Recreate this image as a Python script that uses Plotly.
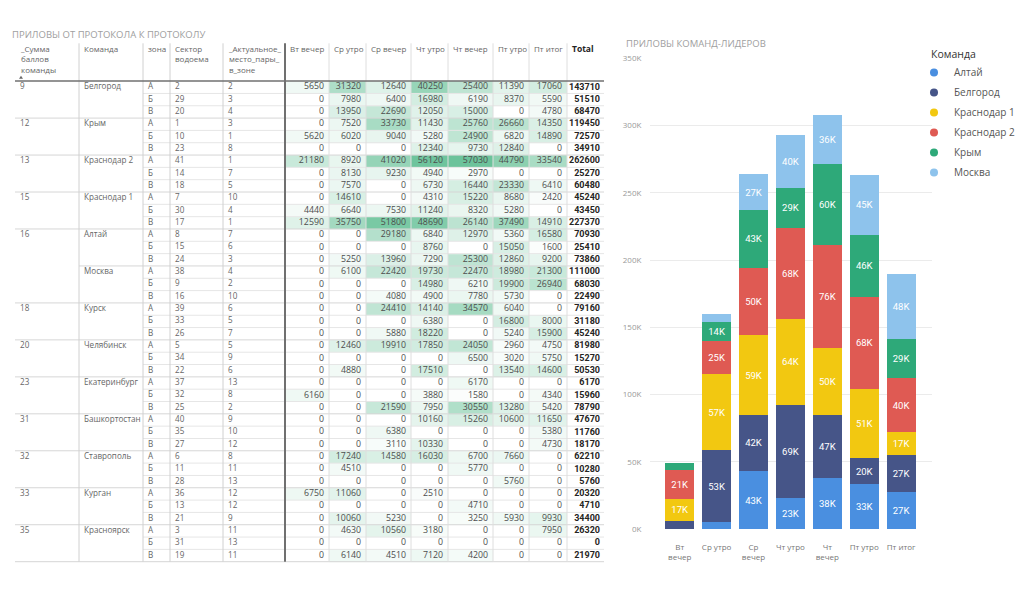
import plotly.graph_objects as go

# ---------------- data (table) ----------------
teams = ["Белгород", "Крым", "Краснодар 2", "Краснодар 1", "Алтай", "Москва", "Курск",
         "Челябинск", "Екатеринбург", "Башкортостан", "Ставрополь", "Курган", "Красноярск"]
team_scores = [9, 12, 13, 15, 16, 16, 18, 20, 23, 31, 32, 33, 35]
zones = ["А", "Б", "В"]
sectors = [2, 29, 20, 1, 10, 23, 41, 14, 18, 7, 30, 17, 8, 15, 24, 38, 9, 16, 39, 33, 26,
           5, 34, 22, 37, 32, 25, 40, 35, 27, 6, 11, 28, 36, 13, 21, 3, 31, 19]
places = [2, 3, 4, 3, 1, 8, 1, 7, 5, 10, 4, 1, 7, 6, 3, 4, 2, 10, 6, 5, 7,
          5, 9, 6, 13, 8, 2, 9, 10, 12, 8, 11, 13, 12, 12, 9, 11, 13, 11]

sessions = ["Вт вечер", "Ср утро", "Ср вечер", "Чт утро", "Чт вечер", "Пт утро", "Пт итог"]
vt_vecher = [5650, 0, 0, 0, 5620, 0, 21180, 0, 0, 0, 4440, 12590, 0, 0, 0, 0, 0, 0, 0, 0, 0,
             0, 0, 0, 0, 6160, 0, 0, 0, 0, 0, 0, 0, 6750, 0, 0, 0, 0, 0]
sr_utro = [31320, 7980, 13950, 7520, 6020, 0, 8920, 8130, 7570, 14610, 6640, 35750, 0, 0, 5250,
           6100, 0, 0, 0, 0, 0, 12460, 0, 4880, 0, 0, 0, 0, 0, 0, 17240, 4510, 0, 11060, 0, 10060,
           4630, 0, 6140]
sr_vecher = [12640, 6400, 22690, 33730, 9040, 0, 41020, 9230, 0, 0, 7530, 51800, 29180, 0, 13960,
             22420, 0, 4080, 24410, 0, 5880, 19910, 0, 0, 0, 0, 21590, 0, 6380, 3110, 14580, 0, 0,
             0, 0, 5230, 10560, 0, 4510]
cht_utro = [40250, 16980, 12050, 11430, 5280, 12340, 56120, 4940, 6730, 4310, 11240, 48690, 6840,
            8760, 7290, 19730, 14980, 4900, 14140, 6380, 18220, 17850, 0, 17510, 0, 3880, 7950,
            10160, 0, 10330, 16030, 0, 0, 2510, 0, 0, 3180, 0, 7120]
cht_vecher = [25400, 6190, 15000, 25760, 24900, 9730, 57030, 2970, 16440, 15220, 8320, 26140,
              12970, 0, 25300, 22470, 6210, 7780, 34570, 0, 0, 24050, 6500, 0, 6170, 1580, 30550,
              15260, 0, 0, 6700, 5770, 0, 0, 4710, 3250, 0, 0, 4200]
pt_utro = [11390, 8370, 0, 26660, 6820, 12840, 44790, 0, 23330, 8680, 5280, 37490, 5360, 15050,
           12860, 18980, 19900, 5730, 6040, 16800, 5240, 2960, 3020, 13540, 0, 0, 13280, 10600, 0,
           0, 7660, 0, 5760, 0, 0, 5930, 0, 0, 0]
pt_itog = [17060, 5590, 4780, 14350, 14890, 0, 33540, 0, 6410, 2420, 0, 14910, 16580, 1600, 9200,
           21300, 26940, 0, 0, 8000, 15900, 4750, 5750, 14600, 0, 4340, 5420, 11650, 5380, 4730,
           0, 0, 0, 0, 0, 9930, 7950, 0, 0]
session_values = [vt_vecher, sr_utro, sr_vecher, cht_utro, cht_vecher, pt_utro, pt_itog]

header_labels = ["_Сумма<br>баллов<br>команды", "Команда", "зона", "Сектор<br>водоема",
                 "_Актуальное_<br>место_пары_<br>в_зоне"] + sessions + ["<b>Total</b>"]

# ---------------- data (chart) ----------------
leaders = ["Алтай", "Белгород", "Краснодар 1", "Краснодар 2", "Крым", "Москва"]
leader_colors = ["#4a8fe0", "#465588", "#f2c811", "#df5a53", "#2ea979", "#8ec3ec"]
session_tick_labels = ["Вт<br>вечер", "Ср утро", "Ср<br>вечер", "Чт утро", "Чт<br>вечер",
                       "Пт утро", "Пт итог"]
y_tick_values = [0, 50000, 100000, 150000, 200000, 250000, 300000, 350000]
y_tick_labels = ["0K", "50K", "100K", "150K", "200K", "250K", "300K", "350K"]

# ---------------- derived ----------------
n_rows = len(sectors)
row_team = [t for t in teams for _ in range(3)]
row_score = [s for s in team_scores for _ in range(3)]
row_zone = zones * len(teams)
totals = [sum(col[i] for col in session_values) for i in range(n_rows)]
leader_sums = [[sum(col[i] for i in range(n_rows) if row_team[i] == team) for col in session_values]
               for team in leaders]

# ---------------- layout constants ----------------
W, H = 1024, 607
FONT = "Open Sans"
col_widths = [64, 64, 27, 53, 62, 44, 37, 45, 37, 45, 36, 38, 37]
TABLE_LEFT = 15
edges = [TABLE_LEFT]
for w in col_widths:
    edges.append(edges[-1] + w)
HEADER_TOP = 38
BODY_TOP = 76.5
ROW_H = 12.55
row_edges = [BODY_TOP + k * ROW_H for k in range(n_rows + 1)]
row_centers = [BODY_TOP + (k + 0.5) * ROW_H for k in range(n_rows)]

fig = go.Figure()

# ----- table: heat fills -----
zmat = [[col[i] for col in session_values] for i in range(n_rows)]
zmax = max(max(col) for col in session_values)
fig.add_trace(go.Heatmap(
    x=edges[5:13], y=row_edges, z=zmat, zmin=0, zmax=zmax,
    colorscale=[[0, "#ffffff"], [1, "#6cc39b"]], showscale=False,
    hoverinfo="skip", xaxis="x2", yaxis="y2"))

# ----- table: numbers -----
nx, ny, nt = [], [], []
for s, col in enumerate(session_values):
    for i, v in enumerate(col):
        nx.append(edges[5 + s + 1] - 5)
        ny.append(row_centers[i])
        nt.append(str(v))
fig.add_trace(go.Scatter(x=nx, y=ny, text=nt, mode="text", textposition="middle left",
                         textfont=dict(family=FONT, size=8.8, color="#4d4d4d"),
                         hoverinfo="skip", showlegend=False, cliponaxis=False,
                         xaxis="x2", yaxis="y2"))
fig.add_trace(go.Scatter(x=[edges[13] - 4] * n_rows, y=row_centers, text=[str(t) for t in totals],
                         mode="text", textposition="middle left",
                         textfont=dict(family="Roboto", size=9, color="#252423", weight="bold"),
                         hoverinfo="skip", showlegend=False, cliponaxis=False,
                         xaxis="x2", yaxis="y2"))

# ----- table: left columns -----
lx, ly, lt = [], [], []
for i in range(n_rows):
    if i == 0 or row_score[i] != row_score[i - 1]:
        lx.append(edges[0] + 5); ly.append(row_centers[i]); lt.append(str(row_score[i]))
    if i % 3 == 0:
        lx.append(edges[1] + 5); ly.append(row_centers[i]); lt.append(row_team[i].replace(" ", "\u00a0"))
    lx.append(edges[2] + 5); ly.append(row_centers[i]); lt.append(row_zone[i])
    lx.append(edges[3] + 5); ly.append(row_centers[i]); lt.append(str(sectors[i]))
    lx.append(edges[4] + 5); ly.append(row_centers[i]); lt.append(str(places[i]))
fig.add_trace(go.Scatter(x=lx, y=ly, text=lt, mode="text", textposition="middle right",
                         textfont=dict(family=FONT, size=8.1, color="#666666"),
                         hoverinfo="skip", showlegend=False, cliponaxis=False,
                         xaxis="x2", yaxis="y2"))

# ----- table: header -----
annotations = []
for j, lab in enumerate(header_labels):
    annotations.append(dict(x=edges[j] + 3, y=HEADER_TOP - 2, xref="x2", yref="y2",
                            text=lab, showarrow=False, xanchor="left", yanchor="top", align="left",
                            font=dict(family=FONT, size=8.5 if j == 12 else 8,
                                      color="#252423" if j == 12 else "#666666")))

# ----- table: grid lines -----
shapes = []
score_starts = {i for i in range(n_rows) if i == 0 or row_score[i] != row_score[i - 1]}
for k in range(1, n_rows + 1):
    if k in score_starts or k == n_rows:
        x0, c = edges[0], "#d6d6d6"
    elif k % 3 == 0:
        x0, c = edges[1], "#d6d6d6"
    else:
        x0, c = edges[2], "#e6e6e6"
    shapes.append(dict(type="line", xref="x2", yref="y2", x0=x0, x1=edges[13],
                       y0=row_edges[k], y1=row_edges[k], line=dict(color=c, width=1), layer="above"))
for j in range(1, 13):
    if j == 5:
        c, w = "#707070", 2
    elif j < 5:
        c, w = "#d0d0d0", 1
    else:
        c, w = "#dedede", 1
    shapes.append(dict(type="line", xref="x2", yref="y2", x0=edges[j], x1=edges[j],
                       y0=HEADER_TOP, y1=row_edges[-1], line=dict(color=c, width=w), layer="above"))
shapes.append(dict(type="line", xref="x2", yref="y2", x0=edges[0], x1=edges[13],
                   y0=BODY_TOP, y1=BODY_TOP, line=dict(color="#707070", width=1.5), layer="above"))
# small sort marker under the first header
ax0 = edges[0] + 4
shapes.append(dict(type="path", xref="x2", yref="y2",
                   path=f"M {ax0},{BODY_TOP - 2.5} L {ax0 + 4},{BODY_TOP - 2.5} L {ax0 + 2},{BODY_TOP - 5.5} Z",
                   fillcolor="#666666", line=dict(width=0), layer="above"))

# ----- bar chart -----
def k_label(v):
    return f"{int(v / 1000 + 0.5)}K"

for team, color, vals in zip(leaders, leader_colors, leader_sums):
    fig.add_trace(go.Bar(
        x=sessions, y=vals, name=team, marker=dict(color=color, line=dict(width=0)),
        text=[k_label(v) for v in vals], textposition="inside",
        insidetextanchor="middle", textangle=0,
        textfont=dict(family="Roboto", size=9.5, color="white"),
        showlegend=False, hovertemplate=team + ": %{y}<extra></extra>"))
for team, color in zip(leaders, leader_colors):
    fig.add_trace(go.Scatter(x=[None], y=[None], mode="markers", name=team, legendgroup=team,
                             marker=dict(size=8, color=color, symbol="circle"), showlegend=True))

# ----- titles -----
annotations.append(dict(x=10 / W, y=1 - 29 / H, xref="paper", yref="paper",
                        text="ПРИЛОВЫ ОТ ПРОТОКОЛА К ПРОТОКОЛУ", showarrow=False,
                        xanchor="left", yanchor="middle",
                        font=dict(family=FONT, size=9.5, color="#a0a0a0")))
annotations.append(dict(x=624 / W, y=1 - 38 / H, xref="paper", yref="paper",
                        text="ПРИЛОВЫ КОМАНД-ЛИДЕРОВ", showarrow=False,
                        xanchor="left", yanchor="middle",
                        font=dict(family=FONT, size=9.5, color="#a0a0a0")))

fig.update_layout(
    width=W, height=H, margin=dict(l=0, r=0, t=0, b=0),
    paper_bgcolor="white", plot_bgcolor="rgba(0,0,0,0)",
    barmode="stack", bargap=0.214,
    uniformtext=dict(minsize=9.5, mode="hide"),
    font=dict(family=FONT),
    xaxis=dict(domain=[650 / W, 932 / W], type="category", range=[-0.805, 6.837],
               tickvals=sessions, ticktext=session_tick_labels, showgrid=False,
               zeroline=False, showline=False, ticks="outside", ticklen=10,
               tickcolor="rgba(0,0,0,0)", tickfont=dict(family=FONT, size=8, color="#777777"),
               fixedrange=True, anchor="y"),
    yaxis=dict(domain=[(H - 532.7) / H, (H - 53.3) / H], range=[0, 350000],
               tickvals=y_tick_values, ticktext=y_tick_labels, showgrid=True,
               gridcolor="#ebebeb", gridwidth=1, zeroline=False, showline=False,
               ticks="outside", ticklen=6, tickcolor="rgba(0,0,0,0)",
               tickfont=dict(family=FONT, size=8, color="#999999"), fixedrange=True, anchor="x"),
    xaxis2=dict(domain=[0, 1], range=[0, W], visible=False, fixedrange=True, anchor="y2"),
    yaxis2=dict(domain=[0, 1], range=[H, 0], visible=False, fixedrange=True, anchor="x2"),
    legend=dict(title=dict(text="Команда", font=dict(family=FONT, size=10.5, color="#333333")),
                font=dict(family=FONT, size=10, color="#555555"),
                x=929 / W, y=1 - 39 / H, xanchor="left", yanchor="top",
                traceorder="grouped", tracegroupgap=1, itemwidth=30, indentation=-15,
                bgcolor="rgba(0,0,0,0)"),
    annotations=annotations, shapes=shapes,
)

fig.write_html("out.html", config={"displayModeBar": False},
               post_script="document.body.style.margin='0';document.body.style.overflow='hidden';")
